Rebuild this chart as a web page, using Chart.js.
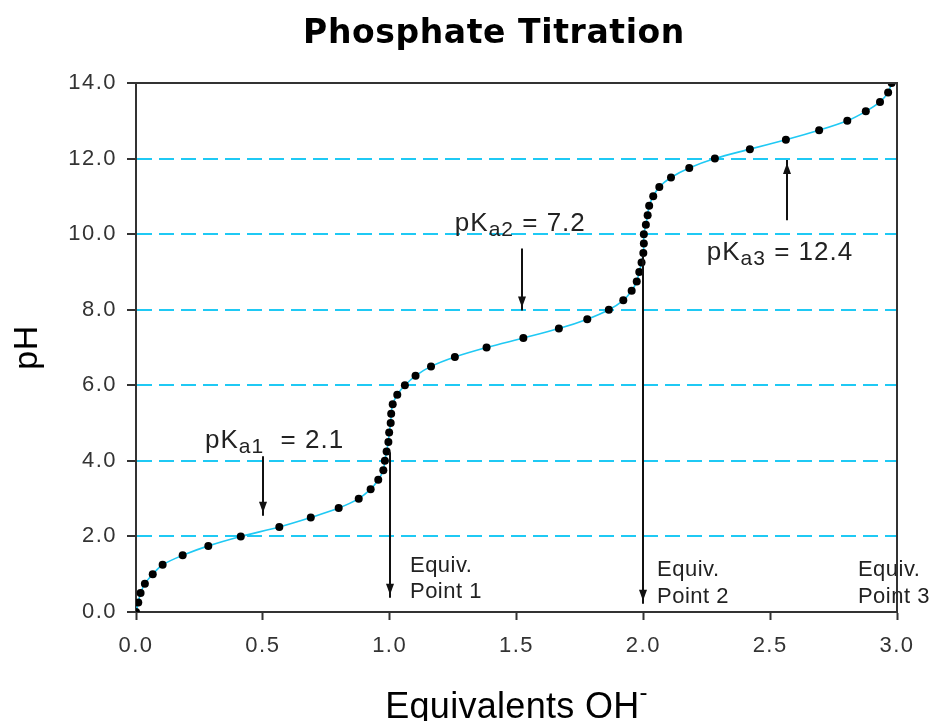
<!DOCTYPE html>
<html>
<head>
<meta charset="utf-8">
<title>Phosphate Titration</title>
<script src="https://cdn.jsdelivr.net/npm/chart.js@4/dist/chart.umd.min.js"></script>
<style>
  html, body { margin: 0; padding: 0; background: #ffffff; }
  #wrap { width: 935px; height: 721px; }
</style>
</head>
<body>
<div id="wrap"><canvas id="chart" width="935" height="721"></canvas></div>
<script>
// Titration points: equivalents of OH- added and the resulting pH
const pHValues = [
  0.00, 0.25, 0.50, 0.75, 1.00, 1.25, 1.50, 1.75, 2.00, 2.25,
  2.50, 2.75, 3.00, 3.25, 3.50, 3.75, 4.00, 4.25, 4.50, 4.75,
  5.00, 5.25, 5.50, 5.75, 6.00, 6.25, 6.50, 6.75, 7.00, 7.25,
  7.50, 7.75, 8.00, 8.25, 8.50, 8.75, 9.00, 9.25, 9.50, 9.75,
  10.00, 10.25, 10.50, 10.75, 11.00, 11.25, 11.50, 11.75, 12.00, 12.25,
  12.50, 12.75, 13.00, 13.25, 13.50, 13.75, 14.00
];
const equivalents = [
  0.000, 0.009, 0.018, 0.035, 0.066, 0.105, 0.184, 0.285, 0.413, 0.565,
  0.689, 0.799, 0.878, 0.925, 0.955, 0.975, 0.981, 0.988, 0.995, 0.998,
  1.004, 1.006, 1.012, 1.030, 1.060, 1.102, 1.163, 1.257, 1.382, 1.527,
  1.667, 1.779, 1.864, 1.921, 1.954, 1.974, 1.984, 1.993, 2.000, 2.002,
  2.002, 2.010, 2.017, 2.023, 2.039, 2.063, 2.109, 2.181, 2.282, 2.420,
  2.562, 2.693, 2.804, 2.877, 2.933, 2.965, 2.979
];

// Axis ticks
const xTickValues = [0, 0.5, 1.0, 1.5, 2.0, 2.5, 3.0];
const xTickLabels = ['0.0', '0.5', '1.0', '1.5', '2.0', '2.5', '3.0'];
const yTickValues = [0, 2, 4, 6, 8, 10, 12, 14];
const yTickLabels = ['0.0', '2.0', '4.0', '6.0', '8.0', '10.0', '12.0', '14.0'];

// pKa labels and the arrows pointing at the half-equivalence regions (axis units)
const pKaNotes = [
  { sub: 'a1', text: '  = 2.1', tx: 0.272, ty: 4.34, ax: 0.500, from: 4.12, to: 2.55 },
  { sub: 'a2', text: ' = 7.2',  tx: 1.257, ty: 10.08, ax: 1.520, from: 9.62, to: 7.98 },
  { sub: 'a3', text: ' = 12.4', tx: 2.250, ty: 9.31, ax: 2.565, from: 10.37, to: 11.96 }
];

// Equivalence point markers
const equivNotes = [
  { label: ['Equiv.', 'Point 1'], lx: 1.080, ly: [1.06, 0.37], ax: 1.000, from: 4.23, to: 0.38 },
  { label: ['Equiv.', 'Point 2'], lx: 2.054, ly: [0.95, 0.24], ax: 2.000, from: 9.44, to: 0.22 },
  { label: ['Equiv.', 'Point 3'], lx: 2.846, ly: [0.95, 0.24], ax: null }
];

const FONT = '"Liberation Sans", Arial, Helvetica, sans-serif';
const CYAN = '#1fc9f4';
const INK = '#222222';
const AXIS = '#333333';

function drawArrow(ctx, x, y1, y2) {
  ctx.beginPath();
  ctx.moveTo(x, y1);
  ctx.lineTo(x, y2);
  ctx.stroke();
  const dir = Math.sign(y2 - y1);
  ctx.beginPath();
  ctx.moveTo(x, y2 - dir * 3);
  ctx.lineTo(x - 4, y2 - dir * 14);
  ctx.lineTo(x + 4, y2 - dir * 14);
  ctx.closePath();
  ctx.fill();
}

const decorations = {
  id: 'decorations',
  beforeDraw(chart) {
    chart.ctx.letterSpacing = '1.5px';
  },
  afterDatasetsDraw(chart) {
    const { ctx, scales: { x, y } } = chart;
    ctx.save();
    ctx.strokeStyle = '#111111';
    ctx.fillStyle = '#111111';
    ctx.lineWidth = 2;

    // pKa arrows and labels
    pKaNotes.forEach(n => {
      const xp = Math.round(x.getPixelForValue(n.ax));
      drawArrow(ctx, xp, y.getPixelForValue(n.from), y.getPixelForValue(n.to));
      let tx = x.getPixelForValue(n.tx);
      const ty = y.getPixelForValue(n.ty);
      ctx.fillStyle = INK;
      ctx.textAlign = 'left';
      ctx.textBaseline = 'alphabetic';
      ctx.letterSpacing = '1px';
      ctx.font = '26px ' + FONT;
      ctx.fillText('pK', tx, ty);
      tx += ctx.measureText('pK').width;
      ctx.font = '21px ' + FONT;
      ctx.fillText(n.sub, tx, ty + 5);
      tx += ctx.measureText(n.sub).width;
      ctx.font = '26px ' + FONT;
      ctx.fillText(n.text, tx, ty);
      ctx.fillStyle = '#111111';
    });

    // Equivalence point arrows and labels
    equivNotes.forEach(n => {
      if (n.ax !== null) {
        const xp = Math.round(x.getPixelForValue(n.ax));
        drawArrow(ctx, xp, y.getPixelForValue(n.from), y.getPixelForValue(n.to));
      }
      ctx.fillStyle = INK;
      ctx.font = '22px ' + FONT;
      ctx.letterSpacing = '0.5px';
      ctx.textAlign = 'left';
      n.label.forEach((line, i) => {
        ctx.fillText(line, x.getPixelForValue(n.lx), y.getPixelForValue(n.ly[i]));
      });
      ctx.fillStyle = '#111111';
    });
    ctx.restore();
  },
  afterDraw(chart) {
    const { ctx, chartArea: a } = chart;
    ctx.save();
    // top and right frame lines
    ctx.strokeStyle = AXIS;
    ctx.lineWidth = 2;
    ctx.beginPath();
    ctx.moveTo(a.left, a.top);
    ctx.lineTo(a.right, a.top);
    ctx.lineTo(a.right, a.bottom);
    ctx.stroke();

    // title
    ctx.fillStyle = '#000000';
    ctx.letterSpacing = '0.6px';
    ctx.font = 'bold 33px "DejaVu Sans", sans-serif';
    ctx.textAlign = 'center';
    ctx.textBaseline = 'alphabetic';
    ctx.fillText('Phosphate Titration', 494, 43);

    // x axis title with superscript charge
    ctx.font = '36px ' + FONT;
    ctx.letterSpacing = '0.3px';
    const main = 'Equivalents OH';
    const w = ctx.measureText(main).width;
    ctx.font = '24px ' + FONT;
    const sw = ctx.measureText('-').width;
    const left = (a.left + a.right) / 2 - (w + sw) / 2;
    ctx.textAlign = 'left';
    ctx.font = '36px ' + FONT;
    ctx.fillText(main, left, 718);
    ctx.font = '24px ' + FONT;
    ctx.fillText('-', left + w, 700);

    // y axis title
    ctx.translate(37, (a.top + a.bottom) / 2);
    ctx.rotate(-Math.PI / 2);
    ctx.textAlign = 'center';
    ctx.font = '34px ' + FONT;
    ctx.letterSpacing = '0.5px';
    ctx.fillText('pH', 0, 0);
    ctx.restore();
  }
};

new Chart(document.getElementById('chart'), {
  type: 'scatter',
  data: {
    datasets: [{
      data: pHValues.map((v, i) => ({ x: equivalents[i], y: v })),
      showLine: true,
      borderColor: CYAN,
      borderWidth: 1.6,
      tension: 0.3,
      pointRadius: 4,
      pointBackgroundColor: '#000000',
      pointBorderWidth: 0,
      pointHoverRadius: 4
    }]
  },
  options: {
    responsive: false,
    animation: false,
    devicePixelRatio: 1,
    events: [],
    layout: { padding: { top: 83, right: 38, left: 0, bottom: 0 } },
    plugins: {
      legend: { display: false },
      title: { display: false },
      tooltip: { enabled: false }
    },
    scales: {
      x: {
        type: 'linear',
        min: 0,
        max: 3,
        afterBuildTicks: s => { s.ticks = xTickValues.map(v => ({ value: v })); },
        afterFit: s => { s.height = 109; },
        ticks: {
          callback: (v, i) => xTickLabels[i],
          color: AXIS,
          padding: 13,
          maxRotation: 0,
          autoSkip: false,
          font: { family: FONT, size: 22 }
        },
        grid: {
          drawOnChartArea: false,
          tickColor: AXIS,
          tickLength: 8,
          tickWidth: 2
        },
        border: { color: AXIS, width: 2 }
      },
      y: {
        type: 'linear',
        min: 0,
        max: 14,
        afterBuildTicks: s => { s.ticks = yTickValues.map(v => ({ value: v })); },
        afterFit: s => { s.width = 136; },
        ticks: {
          callback: (v, i) => yTickLabels[i],
          color: AXIS,
          padding: 10,
          autoSkip: false,
          font: { family: FONT, size: 22 }
        },
        grid: {
          color: c => (c.tick && (c.tick.value === 0 || c.tick.value === 14)) ? 'rgba(0,0,0,0)' : CYAN,
          lineWidth: 2,
          tickColor: AXIS,
          tickLength: 9,
          tickWidth: 2,
          tickBorderDash: []
        },
        border: { color: AXIS, width: 2, dash: [15, 7] }
      }
    }
  },
  plugins: [decorations]
});
</script>
</body>
</html>
